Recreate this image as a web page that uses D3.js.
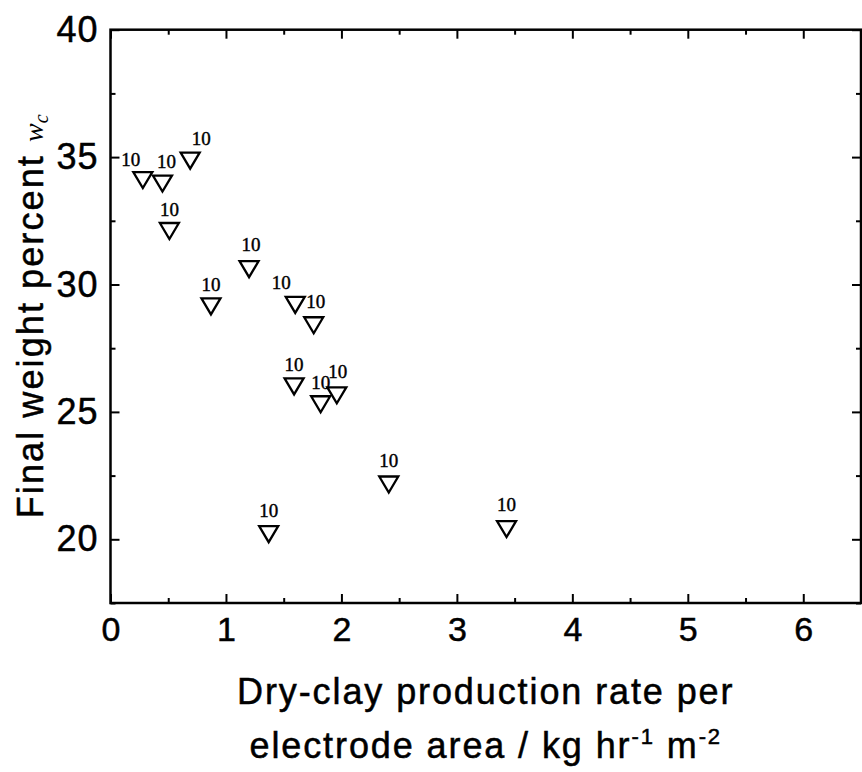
<!DOCTYPE html>
<html>
<head>
<meta charset="utf-8">
<script src="https://cdn.jsdelivr.net/npm/d3@7"></script>
<style>
  html, body { margin: 0; padding: 0; background: #fff; }
  svg { display: block; }
  .tick text { font-family: "Liberation Sans", Arial, sans-serif; fill: #000; stroke: #000; stroke-width: 0.5px; }
</style>
</head>
<body>
<div id="chart"></div>
<script>
// ---- data ----
const rateX = [0.28, 0.45, 0.69, 0.51, 0.87, 1.20, 1.60, 1.76, 1.59, 1.82, 1.96, 2.41, 1.37, 3.43];
const weightY = [34.1, 33.96, 34.86, 32.1, 29.14, 30.6, 29.2, 28.4, 26.0, 25.3, 25.65, 22.15, 20.2, 20.4];
const pointLabels = ["10", "10", "10", "10", "10", "10", "10", "10", "10", "10", "10", "10", "10", "10"];
const xTicks = [0, 1, 2, 3, 4, 5, 6];
const yTicks = [20, 25, 30, 35, 40];
const xMinor = [0.5, 1.5, 2.5, 3.5, 4.5, 5.5];
const yMinor = [17.5, 22.5, 27.5, 32.5, 37.5];
const xDomain = [0, 6.5];
const yDomain = [17.5, 40];

// label nudges (pixels) to reproduce the annotation placement
const labelNudgeX = [-12, 4, 11, 0, 0, 2, -14, 2, 0, 0, 1, 0, 0, 0];
const labelNudgeY = [-20, -22, -22, -21, -22, -24, -22, -24, -22, -22, -24, -24, -23, -24];

// ---- layout ----
const W = 862, H = 772;
const L = 110.5, R = 861, T = 29.7, B = 603;

const svg = d3.select("#chart").append("svg")
  .attr("width", W).attr("height", H)
  .attr("viewBox", `0 0 ${W} ${H}`);

svg.append("rect").attr("width", W).attr("height", H).attr("fill", "#fff");

const x = d3.scaleLinear().domain(xDomain).range([L, R]);
const y = d3.scaleLinear().domain(yDomain).range([B, T]);

const majorLen = 9, minorLen = 5;

function styleAxis(g) {
  g.select(".domain").remove();
  g.selectAll(".tick line").attr("stroke", "#000").attr("stroke-width", 2);
}

// bottom major with labels
svg.append("g").attr("transform", `translate(0,${B})`)
  .call(d3.axisBottom(x).tickValues(xTicks).tickFormat(d3.format("d"))
    .tickSizeInner(-majorLen).tickSizeOuter(0).tickPadding(14))
  .call(styleAxis)
  .call(g => g.selectAll(".tick text").attr("font-size", 34).attr("dy", "0.71em"));
// bottom minor
svg.append("g").attr("transform", `translate(0,${B})`)
  .call(d3.axisBottom(x).tickValues(xMinor).tickFormat("").tickSizeInner(-minorLen).tickSizeOuter(0))
  .call(styleAxis);
// top mirrored
svg.append("g").attr("transform", `translate(0,${T})`)
  .call(d3.axisTop(x).tickValues(xTicks).tickFormat("").tickSizeInner(-majorLen).tickSizeOuter(0))
  .call(styleAxis);
svg.append("g").attr("transform", `translate(0,${T})`)
  .call(d3.axisTop(x).tickValues(xMinor).tickFormat("").tickSizeInner(-minorLen).tickSizeOuter(0))
  .call(styleAxis);

// left major with labels
svg.append("g").attr("transform", `translate(${L},0)`)
  .call(d3.axisLeft(y).tickValues(yTicks).tickFormat(d3.format("d"))
    .tickSizeInner(-majorLen).tickSizeOuter(0).tickPadding(12))
  .call(styleAxis)
  .call(g => g.selectAll(".tick text").attr("font-size", 36).attr("letter-spacing", 1));
svg.append("g").attr("transform", `translate(${L},0)`)
  .call(d3.axisLeft(y).tickValues(yMinor).tickFormat("").tickSizeInner(-minorLen).tickSizeOuter(0))
  .call(styleAxis);
// right mirrored
svg.append("g").attr("transform", `translate(${R},0)`)
  .call(d3.axisRight(y).tickValues(yTicks).tickFormat("").tickSizeInner(-majorLen).tickSizeOuter(0))
  .call(styleAxis);
svg.append("g").attr("transform", `translate(${R},0)`)
  .call(d3.axisRight(y).tickValues(yMinor).tickFormat("").tickSizeInner(-minorLen).tickSizeOuter(0))
  .call(styleAxis);

// frame
svg.append("rect")
  .attr("x", L).attr("y", T).attr("width", R - L).attr("height", B - T)
  .attr("fill", "none").attr("stroke", "#000").attr("stroke-width", 2.5);

// markers: downward triangles
const pts = rateX.map((v, i) => ({ x: v, y: weightY[i], label: pointLabels[i], i }));

svg.append("g").selectAll("path")
  .data(pts).join("path")
  .attr("d", "M-9.5,-8L9.5,-8L0,8Z")
  .attr("transform", d => `translate(${x(d.x)},${y(d.y)})`)
  .attr("fill", "none").attr("stroke", "#000").attr("stroke-width", 2.3)
  .attr("stroke-linejoin", "miter");

svg.append("g").selectAll("text")
  .data(pts).join("text")
  .attr("x", d => x(d.x) + labelNudgeX[d.i])
  .attr("y", d => y(d.y) + labelNudgeY[d.i])
  .attr("dy", "0.33em")
  .attr("text-anchor", "middle")
  .attr("font-family", "'Liberation Serif', 'Times New Roman', serif")
  .attr("font-size", 19)
  .attr("fill", "#000").attr("stroke", "#000").attr("stroke-width", 0.4)
  .text(d => d.label);

// x axis title (two lines)
const cx = (L + R) / 2;
const xt = svg.append("text")
  .attr("text-anchor", "middle")
  .attr("font-family", "'Liberation Sans', Arial, sans-serif")
  .attr("font-size", 36)
  .attr("letter-spacing", 1.9)
  .attr("fill", "#000").attr("stroke", "#000").attr("stroke-width", 0.5);
xt.append("tspan").attr("x", cx).attr("y", 704).text("Dry-clay production rate per");
const l2 = xt.append("tspan").attr("x", cx).attr("y", 758);
l2.append("tspan").text("electrode area / kg hr");
l2.append("tspan").attr("font-size", 22).attr("dy", -14).text("-1");
l2.append("tspan").attr("dy", 14).text(" m");
l2.append("tspan").attr("font-size", 22).attr("dy", -14).text("-2");

// y axis title
const cy = (T + B) / 2;
const yt = svg.append("text")
  .attr("transform", `translate(43,${cy}) rotate(-90)`)
  .attr("text-anchor", "middle")
  .attr("font-family", "'Liberation Sans', Arial, sans-serif")
  .attr("font-size", 36)
  .attr("letter-spacing", 2.1)
  .attr("fill", "#000").attr("stroke", "#000").attr("stroke-width", 0.5);
yt.append("tspan").text("Final weight percent ");
yt.append("tspan").attr("font-family", "'Liberation Serif', 'Times New Roman', serif")
  .attr("font-style", "italic").attr("font-size", 28).attr("letter-spacing", 0)
  .attr("stroke-width", 0).text("w");
yt.append("tspan").attr("font-family", "'Liberation Serif', 'Times New Roman', serif")
  .attr("font-style", "italic").attr("font-size", 20).attr("letter-spacing", 0)
  .attr("stroke-width", 0).attr("dy", 5).text("c");
</script>
</body>
</html>
